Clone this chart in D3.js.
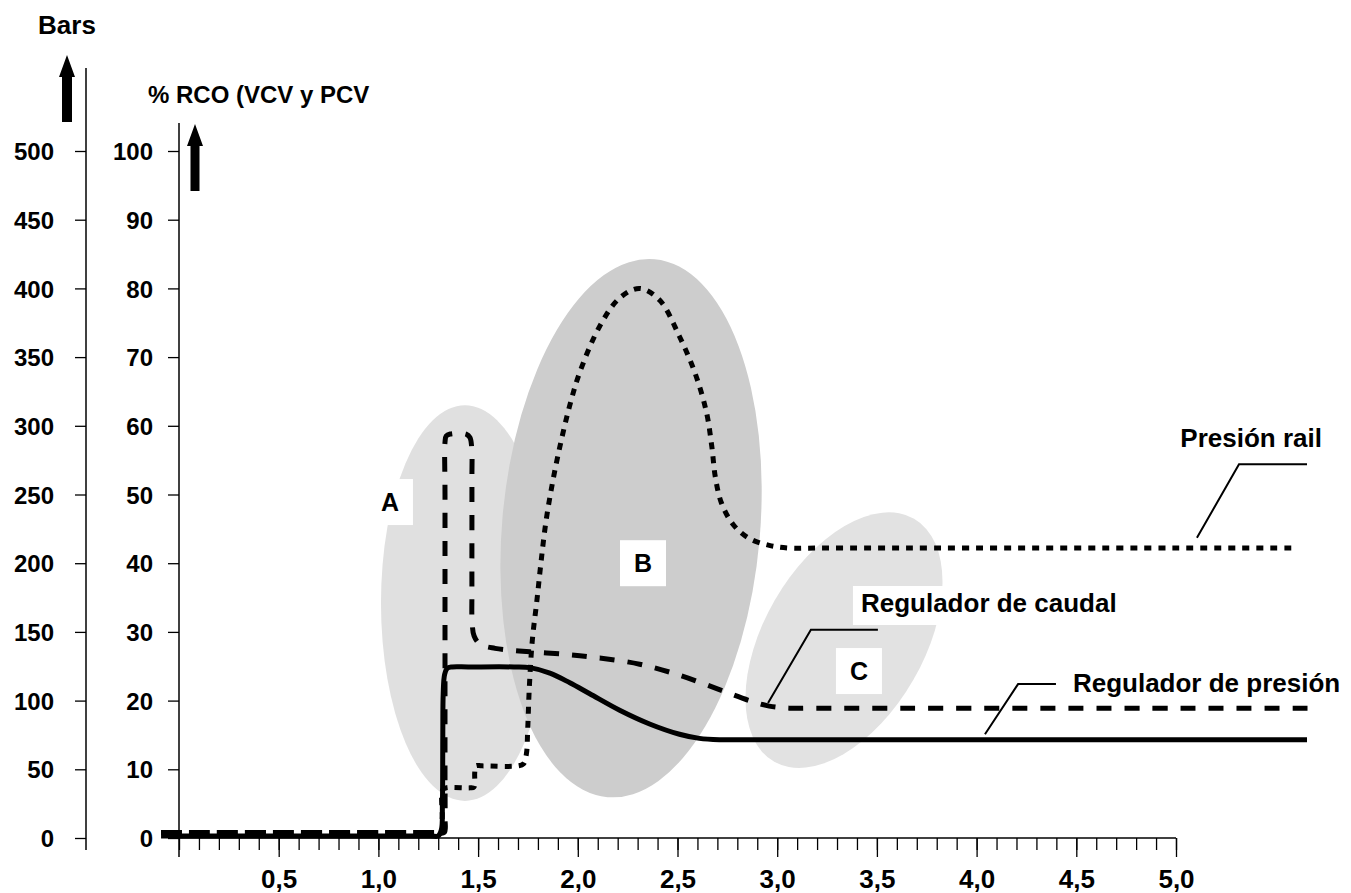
<!DOCTYPE html>
<html>
<head>
<meta charset="utf-8">
<script src="https://cdn.jsdelivr.net/npm/d3@7"></script>
<style>
  html, body { margin: 0; padding: 0; background: #fff; }
  svg text { font-family: "Liberation Sans", Arial, sans-serif; font-weight: bold; fill: #000; }
</style>
</head>
<body>
<svg id="chart" width="1351" height="893"></svg>
<script>
// ---------- DATA ----------
const xMajorTicks = [0.5, 1.0, 1.5, 2.0, 2.5, 3.0, 3.5, 4.0, 4.5, 5.0];
const xTickLabels = ["0,5", "1,0", "1,5", "2,0", "2,5", "3,0", "3,5", "4,0", "4,5", "5,0"];
const pctTicks = [0, 10, 20, 30, 40, 50, 60, 70, 80, 90, 100];
const barTicks = [0, 50, 100, 150, 200, 250, 300, 350, 400, 450, 500];

// Regulador de presión (solid) : [time, % RCO]
const reguladorPresion = [
  [-0.09, 0.3], [0, 0.3], [1.26, 0.3], [1.30, 0.3], [1.316, 1.2], [1.321, 5],
  [1.323, 15], [1.325, 21], [1.332, 23.8], [1.345, 24.7], [1.37, 24.9],
  [1.45, 24.9], [1.68, 24.9], [1.76, 24.8], [1.86, 24.0], [1.96, 22.6],
  [2.06, 21.0], [2.21, 18.6], [2.36, 16.6], [2.51, 15.1], [2.61, 14.5],
  [2.71, 14.3], [2.80, 14.3], [5.50, 14.3], [5.657, 14.3]
];
// Regulador de caudal (dashed)
const reguladorCaudal = [
  [-0.09, 0.8], [0, 0.8], [1.28, 0.8], [1.33, 0.8], [1.334, 3], [1.334, 10],
  [1.334, 50], [1.334, 57.6], [1.340, 58.5], [1.36, 58.8], [1.44, 58.8],
  [1.459, 58.3], [1.468, 56.8], [1.469, 52], [1.469, 36], [1.470, 31.5],
  [1.48, 29.4], [1.51, 28.2], [1.585, 27.6], [1.76, 27.1], [1.95, 26.7],
  [2.11, 26.2], [2.31, 25.3], [2.51, 23.7], [2.71, 21.6], [2.86, 20.0],
  [2.96, 19.2], [3.06, 18.9], [3.20, 18.9], [5.50, 18.9], [5.67, 18.9]
];
// Presión rail (dotted)
const presionRail = [
  [-0.09, 0.8], [0, 0.8], [1.28, 0.8], [1.315, 0.8], [1.320, 3], [1.322, 7.0],
  [1.34, 7.3], [1.46, 7.3], [1.479, 7.4], [1.483, 9.5], [1.488, 10.5],
  [1.52, 10.5], [1.70, 10.5], [1.728, 10.8], [1.742, 12.2], [1.749, 16],
  [1.757, 22.0], [1.772, 28.8], [1.795, 34.6], [1.815, 40.0], [1.840, 46.0],
  [1.875, 52.0], [1.915, 57.6], [1.96, 63.0], [2.01, 67.8], [2.11, 74.5],
  [2.21, 78.6], [2.31, 80.0], [2.41, 78.3], [2.51, 73.0], [2.59, 67.5],
  [2.645, 62.0], [2.672, 57.0], [2.69, 52.5], [2.72, 48.8], [2.78, 45.6],
  [2.86, 43.6], [2.96, 42.6], [3.06, 42.2], [3.20, 42.2], [5.45, 42.2], [5.60, 42.2]
];
// Highlighted zones
const zoneNames = ["A", "B", "C"];
const zoneCentreT = [1.434, 2.267, 3.335];
const zoneCentreV = [34.2, 45.1, 28.8];
const zoneHalfT = [0.421, 0.647, 0.401];
const zoneHalfV = [28.8, 39.3, 20.4];
const zoneTilt = [0, 5, 30];
const zoneLabelT = [1.058, 2.327, 3.41];
const zoneLabelV = [48.9, 40.0, 24.3];

// Callouts
const calloutNames = ["Presión rail", "Regulador de caudal", "Regulador de presión"];
const calloutLeaders = [
  [[5.105, 43.7], [5.316, 54.4], [5.657, 54.4]],
  [[2.954, 19.65], [3.169, 30.3], [3.505, 30.3]],
  [[4.042, 15.1], [4.208, 22.4], [4.398, 22.4]]
];
const calloutTextPos = [[5.732, 56.9, "end"], [3.42, 32.9, "start"], [4.483, 21.25, "start"]];

// ---------- LAYOUT ----------
const svg = d3.select("#chart");
const X0 = 179, X1 = 1176, Y0 = 838, Y1 = 151;
const x = d3.scaleLinear().domain([0, 5]).range([X0, X1]);
const y = d3.scaleLinear().domain([0, 100]).range([Y0, Y1]);
const yBar = d3.scaleLinear().domain([0, 500]).range([Y0, Y1]);
const BAR_AXIS_X = 86;

svg.append("rect").attr("width", 1351).attr("height", 893).attr("fill", "#fff");

// zones (ellipses)
const zoneFill = ["#e0e0e0", "#cdcdcd", "#e2e2e2"];
zoneNames.forEach((n, i) => {
  const cx = x(zoneCentreT[i]), cy = y(zoneCentreV[i]);
  const rx = x(zoneHalfT[i]) - x(0), ry = y(0) - y(zoneHalfV[i]);
  svg.append("ellipse")
    .attr("cx", 0).attr("cy", 0).attr("rx", rx).attr("ry", ry)
    .attr("transform", `translate(${cx},${cy}) rotate(${zoneTilt[i]})`)
    .attr("fill", zoneFill[i]);
});

// zone letter boxes
zoneNames.forEach((n, i) => {
  const cx = x(zoneLabelT[i]), cy = y(zoneLabelV[i]);
  svg.append("rect").attr("x", cx - 23).attr("y", cy - 23).attr("width", 46).attr("height", 46).attr("fill", "#fff");
  svg.append("text").attr("x", cx).attr("y", cy).attr("dy", "0.36em")
    .attr("text-anchor", "middle").attr("font-size", 25).text(n);
});

// white box behind "Regulador de caudal"
{
  const p = calloutTextPos[1];
  svg.append("rect").attr("x", x(p[0]) - 8).attr("y", y(p[1]) - 26).attr("width", 258).attr("height", 39).attr("fill", "#fff");
}

// lines
const line = d3.line().x(d => x(d[0])).y(d => y(d[1])).curve(d3.curveCatmullRom.alpha(0.5));
svg.append("path").datum(presionRail).attr("d", line)
  .attr("fill", "none").attr("stroke", "#000").attr("stroke-width", 5).attr("stroke-dasharray", "7,7");
svg.append("path").datum(reguladorCaudal).attr("d", line)
  .attr("fill", "none").attr("stroke", "#000").attr("stroke-width", 5).attr("stroke-dasharray", "15,13");
svg.append("path").datum(reguladorPresion).attr("d", line)
  .attr("fill", "none").attr("stroke", "#000").attr("stroke-width", 5).attr("stroke-linejoin", "round");

// callouts
const leader = d3.line().x(d => x(d[0])).y(d => y(d[1]));
calloutNames.forEach((n, i) => {
  svg.append("path").attr("d", leader(calloutLeaders[i])).attr("fill", "none").attr("stroke", "#000").attr("stroke-width", 2);
  const p = calloutTextPos[i];
  svg.append("text").attr("x", x(p[0])).attr("y", y(p[1])).attr("text-anchor", p[2]).attr("font-size", 26).text(n);
});

// ---------- AXES ----------
const xMinor = d3.axisBottom(x).tickValues(d3.range(0, 51).map(i => i / 10)).tickSize(12).tickFormat("");
const gxm = svg.append("g").attr("transform", `translate(0,${Y0})`).call(xMinor);
gxm.select(".domain").remove();
gxm.selectAll("line").attr("stroke", "#000").attr("stroke-width", 1.3);
const xMajor = d3.axisBottom(x).tickValues(xMajorTicks).tickSize(19)
  .tickFormat((d, i) => xTickLabels[i]);
const gx = svg.append("g").attr("transform", `translate(0,${Y0})`).call(xMajor);
gx.select(".domain").remove();
gx.selectAll("line").attr("stroke", "#000").attr("stroke-width", 1.3);
gx.selectAll("text").attr("y", 50).attr("dy", 0).attr("font-size", 26)
  .attr("font-family", "Liberation Sans, Arial, sans-serif").attr("font-weight", "bold").attr("fill", "#000");
svg.append("line").attr("x1", X0).attr("x2", X1).attr("y1", Y0).attr("y2", Y0).attr("stroke", "#000").attr("stroke-width", 1.5);

// % RCO axis
const gyp = svg.append("g").attr("transform", `translate(${X0},0)`)
  .call(d3.axisLeft(y).tickValues(pctTicks).tickSize(11).tickPadding(15));
gyp.select(".domain").remove();
gyp.selectAll("line").attr("stroke", "#000").attr("stroke-width", 1.3);
gyp.selectAll("text").attr("font-size", 24).attr("dy", "0.36em")
  .attr("font-family", "Liberation Sans, Arial, sans-serif").attr("font-weight", "bold").attr("fill", "#000");
svg.append("line").attr("x1", X0).attr("x2", X0).attr("y1", 123).attr("y2", 857).attr("stroke", "#000").attr("stroke-width", 1.5);

// Bars axis
const gyb = svg.append("g").attr("transform", `translate(${BAR_AXIS_X},0)`)
  .call(d3.axisLeft(yBar).tickValues(barTicks).tickSize(11).tickPadding(21));
gyb.select(".domain").remove();
gyb.selectAll("line").attr("stroke", "#000").attr("stroke-width", 1.3);
gyb.selectAll("text").attr("font-size", 24).attr("dy", "0.36em")
  .attr("font-family", "Liberation Sans, Arial, sans-serif").attr("font-weight", "bold").attr("fill", "#000");
svg.append("line").attr("x1", BAR_AXIS_X).attr("x2", BAR_AXIS_X).attr("y1", 68).attr("y2", 850).attr("stroke", "#000").attr("stroke-width", 1.5);

// axis titles
svg.append("text").attr("x", 67).attr("y", 34).attr("text-anchor", "middle").attr("font-size", 26).text("Bars");
svg.append("text").attr("x", 148).attr("y", 103).attr("font-size", 24).text("% RCO (VCV y PCV");

// arrows
function arrow(cx, tip, headBase, bottom, headHalf, shaftHalf) {
  const p = d3.path();
  p.moveTo(cx, tip);
  p.lineTo(cx + headHalf, headBase);
  p.lineTo(cx + shaftHalf, headBase);
  p.lineTo(cx + shaftHalf, bottom);
  p.lineTo(cx - shaftHalf, bottom);
  p.lineTo(cx - shaftHalf, headBase);
  p.lineTo(cx - headHalf, headBase);
  p.closePath();
  svg.append("path").attr("d", p.toString()).attr("fill", "#000");
}
arrow(67, 55, 77, 122, 8, 5);
arrow(195, 124, 146, 191, 8, 4.5);
</script>
</body>
</html>
